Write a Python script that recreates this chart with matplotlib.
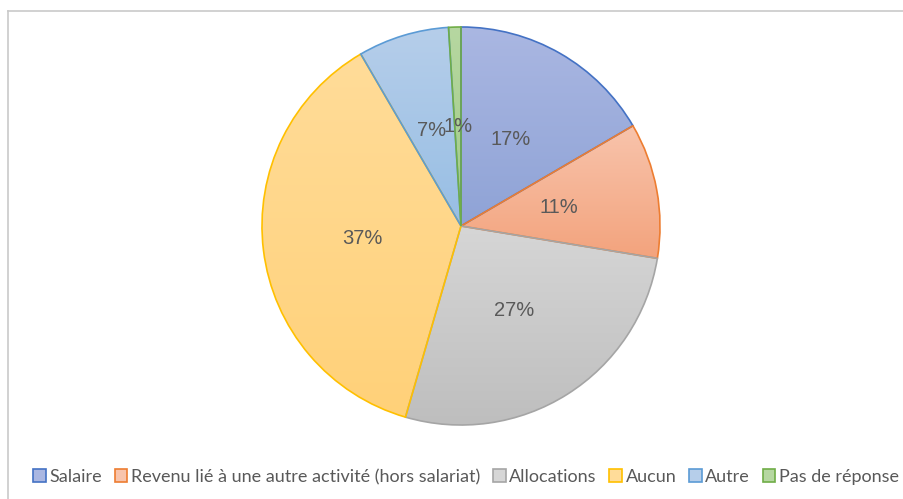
import numpy as np
import matplotlib
matplotlib.use("Agg")
import matplotlib.pyplot as plt
from matplotlib.colors import LinearSegmentedColormap
from matplotlib.patches import Patch
from matplotlib.lines import Line2D

# data
labels = ["Salaire", "Revenu lié à une autre activité (hors salariat)", "Allocations",
          "Aucun", "Autre", "Pas de réponse"]
shares = [16.6, 11.0, 26.9, 37.1, 7.4, 1.0]

edge_colors = ["#4472C4", "#ED7D31", "#A5A5A5", "#FFC000", "#5B9BD5", "#70AD47"]
top_colors = ["#AAB7E2", "#F8C4AC", "#D6D6D6", "#FFDC99", "#B6CEEA", "#B6D7A1"]
bottom_colors = ["#8FA3D6", "#F3A37D", "#BEBEBE", "#FFD179", "#97BEE4", "#A1CB86"]

W, H = 904, 499
fig = plt.figure(figsize=(W / 100, H / 100), dpi=100)

# frame of the chart area (top and left edges visible)
fig.add_artist(Line2D([8 / W, 1], [1 - 11 / H, 1 - 11 / H], color="#C9C9C9", lw=1.2))
fig.add_artist(Line2D([8 / W, 8 / W], [0, 1 - 11 / H], color="#C9C9C9", lw=1.2))

cx, cy, r = 461, 226, 201
ax = fig.add_axes([(cx - r) / W, (H - cy - r) / H, 2 * r / W, 2 * r / H])

wedges, texts, autotexts = ax.pie(
    shares, startangle=90, counterclock=False, radius=1,
    colors=["none"] * len(shares),
    autopct=lambda p: f"{p:.0f}%", pctdistance=0.5,
    wedgeprops=dict(linewidth=1.2, zorder=3),
    textprops=dict(fontsize=14.5, color="#595959", family="Liberation Sans"),
)
ax.set_xlim(-1.01, 1.01)
ax.set_ylim(-1.01, 1.01)
ax.axis("off")

grad = np.linspace(0, 1, 256).reshape(-1, 1)
for w, ec, tc, bc in zip(wedges, edge_colors, top_colors, bottom_colors):
    w.set_edgecolor(ec)
    ext = w.get_path().transformed(w.get_patch_transform()).get_extents()
    cmap = LinearSegmentedColormap.from_list("g", [tc, bc])
    im = ax.imshow(grad, cmap=cmap, aspect="auto", origin="upper",
                   extent=[ext.x0, ext.x1, ext.y0, ext.y1], zorder=2)
    im.set_clip_path(w)
for t in autotexts:
    t.set_zorder(5)

handles = [Patch(facecolor=tc, edgecolor=ec, linewidth=1.2)
           for tc, ec in zip(top_colors, edge_colors)]
fig.legend(handles, labels, loc="center", bbox_to_anchor=(466 / W, 1 - 477 / H),
           ncol=6, frameon=False, handlelength=0.7, handleheight=0.7,
           handletextpad=0.2, columnspacing=0.7, borderaxespad=0,
           prop=dict(family="Lato", size=13), labelcolor="#595959")

fig.savefig("out.png", dpi=100)
